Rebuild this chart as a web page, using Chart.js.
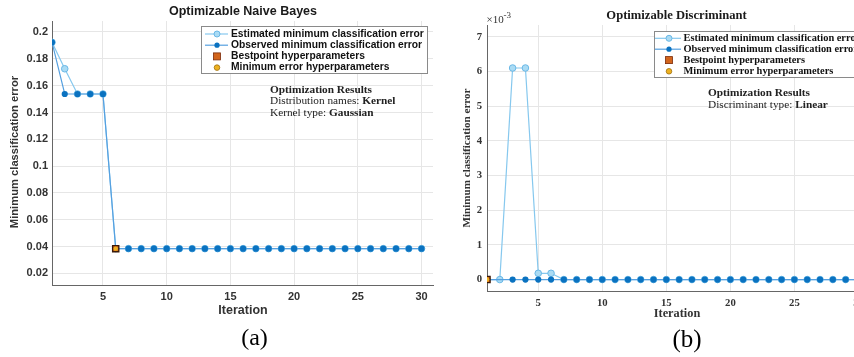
<!DOCTYPE html>
<html><head><meta charset="utf-8">
<script src="https://cdn.jsdelivr.net/npm/chart.js@4"></script>
<style>
html,body{margin:0;padding:0;background:#fff;width:854px;height:357px;overflow:hidden;position:relative}
#ca{position:absolute;left:0;top:0}
#cb{position:absolute;left:440px;top:0}
</style></head><body>
<canvas id="ca" width="440" height="357"></canvas>
<canvas id="cb" width="440" height="357"></canvas>
<script>
// ---------- data ----------
const iterations = [1,2,3,4,5,6,7,8,9,10,11,12,13,14,15,16,17,18,19,20,21,22,23,24,25,26,27,28,29,30];
// (a) Optimizable Naive Bayes
const estimatedA = [0.1923,0.1726,0.1538,0.1538,0.1538,0.0385,0.0385,0.0385,0.0385,0.0385,0.0385,0.0385,0.0385,0.0385,0.0385,0.0385,0.0385,0.0385,0.0385,0.0385,0.0385,0.0385,0.0385,0.0385,0.0385,0.0385,0.0385,0.0385,0.0385,0.0385];
const observedA  = [0.1923,0.1538,0.1538,0.1538,0.1538,0.0385,0.0385,0.0385,0.0385,0.0385,0.0385,0.0385,0.0385,0.0385,0.0385,0.0385,0.0385,0.0385,0.0385,0.0385,0.0385,0.0385,0.0385,0.0385,0.0385,0.0385,0.0385,0.0385,0.0385,0.0385];
const bestIterA = 6, bestErrA = 0.0385;
const xTicks = [5,10,15,20,25,30];
const yTicksA = [0.02,0.04,0.06,0.08,0.1,0.12,0.14,0.16,0.18,0.2];
// (b) Optimizable Discriminant
const estimatedB = [0,0,0.0061,0.0061,0.00018,0.00018,0,0,0,0,0,0,0,0,0,0,0,0,0,0,0,0,0,0,0,0,0,0,0,0];
const observedB  = [0,0,0,0,0,0,0,0,0,0,0,0,0,0,0,0,0,0,0,0,0,0,0,0,0,0,0,0,0,0];
const bestIterB = 1, bestErrB = 0;
const yTicksB = [0,0.001,0.002,0.003,0.004,0.005,0.006,0.007];
const legendLabels = ['Estimated minimum classification error','Observed minimum classification error','Bestpoint hyperparameters','Minimum error hyperparameters'];

// ---------- styles ----------
const SANS = '"Liberation Sans", Arial, sans-serif';
const SERIF = '"Liberation Serif", "Times New Roman", serif';
const EST_LINE = '#86c8ee', EST_FILL = '#aadbf4', EST_EDGE = '#6ab8e6';
const OBS_LINE = '#55a0e0', OBS_FILL = '#0a72c0';
const BEST_FILL = '#d2651c', MIN_FILL = '#edb120';

function pts(ys){ return iterations.map((x,i)=>({x:x,y:ys[i]})); }

function drawRuns(ctx, x, y, runs, size, fam){
  ctx.textAlign='left'; ctx.textBaseline='middle';
  for(const [t,b] of runs){
    ctx.font=(b?'bold ':'')+size+'px '+fam;
    ctx.fillText(t,x,y); x+=ctx.measureText(t).width;
  }
}

function makeChart(id, c){
  const textPlugin = {
    id:'txt',
    afterDraw(chart){
      const ctx=chart.ctx;
      ctx.save();
      ctx.fillStyle='#1a1a1a';
      ctx.font='bold '+c.titleSize+'px '+c.fam; ctx.textAlign='center'; ctx.textBaseline='middle';
      ctx.fillText(c.title, c.titleX, c.titleY);
      ctx.font='bold '+c.axTitleSize+'px '+c.fam; ctx.fillStyle='#333';
      ctx.fillText('Iteration', c.xTitleX, c.xTitleY);
      ctx.save(); ctx.translate(c.yTitleX, c.yTitleY); ctx.rotate(-Math.PI/2);
      ctx.font='bold '+c.yTitleSize+'px '+c.fam; ctx.fillText('Minimum classification error',0,0); ctx.restore();
      ctx.fillStyle='#000'; ctx.font=c.capSize+'px '+SERIF; ctx.textAlign='center';
      ctx.fillText(c.caption, c.capX, c.capY);
      if(c.expo){
        ctx.fillStyle='#333';
        drawRuns(ctx, c.expo[0], c.expo[1], [['\u00d710',false]], 11, SERIF);
        ctx.font='9px '+SERIF; ctx.fillText('-3', c.expo[0]+17, c.expo[1]-4);
      }
      ctx.fillStyle='#222';
      c.info.forEach((runs,i)=>drawRuns(ctx, c.infoX, c.infoY + i*c.infoDy, runs, c.infoSize, SERIF));
      const L=c.leg;
      ctx.fillStyle='#fff'; ctx.fillRect(L.l, L.t, L.r-L.l, L.b-L.t);
      ctx.strokeStyle='#8a8a8a'; ctx.lineWidth=1; ctx.strokeRect(L.l+0.5, L.t+0.5, L.r-L.l, L.b-L.t);
      legendLabels.forEach((lab,i)=>{
        const y=L.rows[i];
        if(i<2){
          ctx.strokeStyle = i===0?EST_LINE:OBS_LINE; ctx.lineWidth=1.2;
          ctx.beginPath(); ctx.moveTo(L.x0,y); ctx.lineTo(L.x1,y); ctx.stroke();
          ctx.beginPath(); ctx.arc(L.xm,y,i===0?3:2.6,0,Math.PI*2);
          ctx.fillStyle = i===0?EST_FILL:OBS_FILL; ctx.fill();
          if(i===0){ctx.strokeStyle=EST_EDGE; ctx.lineWidth=1; ctx.stroke();}
        } else if(i===2){
          ctx.fillStyle=BEST_FILL; ctx.fillRect(L.xm-3.5,y-3.5,7,7);
          ctx.strokeStyle='#7a2a08'; ctx.lineWidth=0.8; ctx.strokeRect(L.xm-3.5,y-3.5,7,7);
        } else {
          ctx.beginPath(); ctx.arc(L.xm,y,2.8,0,Math.PI*2); ctx.fillStyle=MIN_FILL; ctx.fill();
          ctx.strokeStyle='#a07010'; ctx.lineWidth=0.8; ctx.stroke();
        }
        ctx.fillStyle='#111';
        drawRuns(ctx, L.tx, y, [[lab,true]], c.legSize, c.fam);
      });
      ctx.restore();
    }
  };
  const tickFont = {family:c.fam, size:c.tickSize, weight:'bold'};
  return new Chart(document.getElementById(id), {
    type:'line',
    data:{datasets:[
      {label:'min', type:'scatter', data:[{x:c.bestX,y:c.bestY}], pointStyle:'circle', pointRadius:2.2, pointBackgroundColor:MIN_FILL, pointBorderColor:MIN_FILL, pointBorderWidth:0, order:0},
      {label:'best', type:'scatter', data:[{x:c.bestX,y:c.bestY}], pointStyle:'rect', pointRadius:4.4, pointBackgroundColor:BEST_FILL, pointBorderColor:'#3a1a08', pointBorderWidth:1.3, order:1},
      {label:'obs', data:pts(c.obs), borderColor:OBS_LINE, borderWidth:1.2, pointRadius:c.obsRadius, pointBackgroundColor:OBS_FILL, pointBorderColor:OBS_FILL, pointBorderWidth:0, tension:0, order:2},
      {label:'est', data:pts(c.est), borderColor:EST_LINE, borderWidth:1.2, pointRadius:3.3, pointBackgroundColor:EST_FILL, pointBorderColor:EST_EDGE, pointBorderWidth:1, tension:0, order:3}
    ]},
    options:{
      responsive:false, animation:false, devicePixelRatio:1,
      layout:{padding:{top:c.top, right:c.W-c.right, left:0, bottom:0}},
      plugins:{legend:{display:false}, tooltip:{enabled:false}, title:{display:false}},
      scales:{
        x:{type:'linear', min:1, max:30.9,
          afterBuildTicks:s=>{s.ticks=xTicks.map(v=>({value:v}));},
          afterFit:s=>{s.height=c.H-c.bottom;},
          grid:{color:'#e6e6e6', drawTicks:false, lineWidth:1},
          border:{color:'#666', width:1},
          ticks:{font:tickFont, color:'#333', padding:c.xPad, maxRotation:0, callback:v=>String(v)}},
        y:{type:'linear', min:c.ymin, max:c.ymax,
          afterBuildTicks:s=>{s.ticks=c.yTicks.map(v=>({value:v}));},
          afterFit:s=>{s.width=c.left;},
          grid:{color:'#e6e6e6', drawTicks:false, lineWidth:1},
          border:{color:'#666', width:1},
          ticks:{font:tickFont, color:'#333', padding:c.yPad, callback:c.yFmt}}
      }
    },
    plugins:[textPlugin]
  });
}

makeChart('ca', {
  W:440, H:357, left:52, right:433, top:21, bottom:285,
  fam:SANS, tickSize:11, xPad:5, yPad:4,
  ymin:0.0114, ymax:0.2082, yTicks:yTicksA, yFmt:v=>String(+v.toFixed(2)),
  est:estimatedA, obs:observedA, obsRadius:3.1, bestX:bestIterA, bestY:bestErrA,
  title:'Optimizable Naive Bayes', titleSize:12.5, titleX:243, titleY:12,
  axTitleSize:12.5, xTitleX:243, xTitleY:311,
  yTitleSize:11.2, yTitleX:15, yTitleY:152,
  caption:'(a)', capSize:24, capX:254.5, capY:339,
  info:[[['Optimization Results',true]],[['Distribution names: ',false],['Kernel',true]],[['Kernel type: ',false],['Gaussian',true]]],
  infoX:270, infoY:90, infoDy:11.4, infoSize:11.3,
  leg:{l:201, r:427, t:26, b:73, rows:[34,45.2,56.4,67.6], x0:205, x1:228, xm:217, tx:231},
  legSize:10.3
});

makeChart('cb', {
  W:440, H:357, left:47, right:430, top:25, bottom:291,
  fam:SERIF, tickSize:10.7, xPad:6, yPad:5,
  ymin:-0.00033, ymax:0.00734, yTicks:yTicksB, yFmt:v=>String(Math.round(v*1000)),
  est:estimatedB, obs:observedB, obsRadius:iterations.map(i=>i===2?0:3.1), bestX:bestIterB, bestY:bestErrB,
  title:'Optimizable Discriminant', titleSize:12.6, titleX:236.5, titleY:16,
  axTitleSize:12.3, xTitleX:237, xTitleY:314,
  yTitleSize:11.1, yTitleX:26.7, yTitleY:158,
  caption:'(b)', capSize:25, capX:247, capY:340,
  expo:[46.5,20],
  info:[[['Optimization Results',true]],[['Discriminant type: ',false],['Linear',true]]],
  infoX:268, infoY:93.3, infoDy:11.7, infoSize:11.3,
  leg:{l:214, r:450, t:31, b:77, rows:[38.3,49.2,60.1,71.3], x0:215, x1:241, xm:229, tx:243.5},
  legSize:10.4
});
</script>
</body></html>
